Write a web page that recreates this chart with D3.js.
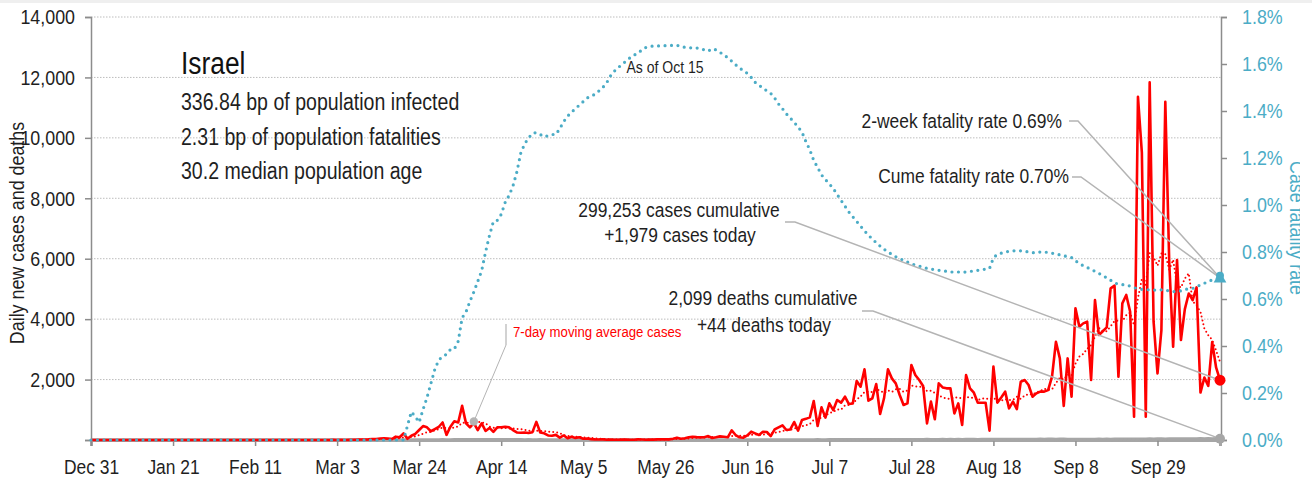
<!DOCTYPE html>
<html>
<head>
<meta charset="utf-8">
<script src="https://cdn.jsdelivr.net/npm/d3@7"></script>
<style>
  html, body { margin: 0; padding: 0; background: #fff; }
  svg { display: block; font-family: "Liberation Sans", Arial, sans-serif; }
</style>
</head>
<body>
<svg id="chart" width="1312" height="480"></svg>
<script>
// ---- data: one value per day, starting 2019-12-31 ----
const startDay = "2019-12-31";

const dailyCases = [
  0,0,0,0,0,0,0,0,0,0,
  0,0,0,0,0,0,0,0,0,0,
  0,0,0,0,0,0,0,0,0,0,
  0,0,0,0,0,0,0,0,0,0,
  0,0,0,0,0,0,0,0,0,0,
  0,0,1,0,0,0,0,0,1,0,
  0,2,3,2,5,2,4,8,11,19,
  16,21,34,28,48,57,50,30,110,90,
  220,40,140,200,330,460,420,290,360,430,
  580,170,440,620,580,1130,550,420,560,330,
  550,300,400,270,420,420,440,420,330,250,
  240,250,230,260,600,250,220,150,140,170,
  80,150,60,110,70,90,40,50,30,20,
  15,20,10,15,8,10,12,15,10,8,
  20,15,10,18,12,20,22,25,20,40,
  77,44,60,90,110,95,88,90,130,66,
  90,120,105,90,320,165,90,77,150,275,
  220,165,275,265,130,350,420,485,330,350,
  595,310,660,700,750,1290,463,1080,740,1213,
  990,1323,1235,1434,1190,1210,1950,1765,2340,1300,
  1380,1853,860,1380,2340,2040,1875,1490,1160,1213,
  2480,2150,1985,1790,550,1270,685,1875,1740,1710,
  1710,880,1213,496,2150,1710,1566,1235,1235,1235,
  310,2430,1235,1410,1600,1048,1270,1025,1930,1985,
  1820,1434,1544,1600,1600,1650,2100,3250,2700,1125,
  2700,1434,4357,3750,3860,3915,1985,4630,3474,3600,
  3728,5020,5107,2096,4522,4800,4247,772,11360,9500,
  772,11835,3915,2206,3640,11195,5900,3090,5956,3310,
  4330,4850,4630,5050,1570,2070,1790,3240,2400,1979
];

const dailyDeaths = [
  0,0,0,0,0,0,0,0,0,0, 0,0,0,0,0,0,0,0,0,0,
  0,0,0,0,0,0,0,0,0,0, 0,0,0,0,0,0,0,0,0,0,
  0,0,0,0,0,0,0,0,0,0, 0,0,0,0,0,0,0,0,0,0,
  0,0,0,0,0,0,0,0,0,0, 0,0,0,0,0,0,0,0,0,0,
  1,0,0,1,2,1,3,3,4,3,
  5,4,4,6,5,7,8,9,6,10,
  8,9,7,8,10,6,8,7,5,8,
  6,4,5,4,3,5,3,4,2,3,
  2,3,2,2,1,3,1,2,1,2,
  1,1,0,2,1,0,1,1,0,1,
  1,0,0,1,0,1,0,1,0,0,
  1,0,1,0,1,0,0,1,0,1,
  0,1,0,1,0,1,1,0,1,0,
  1,0,1,1,0,2,1,1,2,1,
  2,3,2,3,4,3,5,4,4,6,
  5,6,5,7,6,8,7,6,8,9,
  7,9,10,8,11,9,10,12,8,11,
  10,12,11,9,13,11,12,10,14,12,
  13,11,15,12,14,13,16,12,15,14,
  13,16,15,14,17,15,18,16,19,17,
  18,20,17,22,19,21,23,20,24,22,
  17,15,18,16,19,17,20,18,21,19,
  22,20,23,21,25,22,27,24,26,28,
  26,30,27,29,32,28,31,34,30,33,
  35,32,37,34,39,36,38,35,40,44
];

// case fatality rate, percent
const fatalityRate = [
  0,0,0,0,0,0,0,0,0,0, 0,0,0,0,0,0,0,0,0,0,
  0,0,0,0,0,0,0,0,0,0, 0,0,0,0,0,0,0,0,0,0,
  0,0,0,0,0,0,0,0,0,0, 0,0,0,0,0,0,0,0,0,0,
  0,0,0,0,0,0,0,0,0,0, 0,0,0,0,0,0,0,0,0,0,
  0,0.06,0.12,0.10,0.075,0.13,0.18,0.24,0.30,0.34,
  0.355,0.365,0.385,0.387,0.42,0.52,0.545,0.59,0.63,0.675,
  0.72,0.80,0.87,0.93,0.935,0.96,1.01,1.04,1.08,1.14,
  1.22,1.26,1.285,1.305,1.308,1.30,1.29,1.295,1.30,1.30,
  1.325,1.355,1.378,1.395,1.41,1.425,1.44,1.455,1.465,1.47,
  1.485,1.50,1.52,1.55,1.57,1.585,1.60,1.612,1.627,1.638,
  1.645,1.66,1.67,1.674,1.677,1.677,1.677,1.678,1.678,1.68,
  1.68,1.674,1.671,1.67,1.668,1.668,1.666,1.66,1.655,1.665,
  1.66,1.65,1.638,1.627,1.612,1.597,1.582,1.573,1.56,1.543,
  1.522,1.51,1.497,1.486,1.475,1.455,1.43,1.41,1.388,1.37,
  1.352,1.332,1.31,1.27,1.235,1.19,1.16,1.128,1.108,1.09,
  1.07,1.045,1.02,0.995,0.97,0.95,0.93,0.91,0.89,0.872,
  0.855,0.84,0.825,0.812,0.80,0.79,0.78,0.772,0.765,0.757,
  0.75,0.745,0.74,0.735,0.73,0.727,0.725,0.722,0.72,0.718,
  0.715,0.715,0.715,0.714,0.715,0.717,0.72,0.722,0.725,0.727,
  0.73,0.775,0.79,0.795,0.80,0.803,0.805,0.805,0.805,0.803,
  0.80,0.797,0.797,0.80,0.80,0.798,0.795,0.792,0.788,0.784,
  0.78,0.776,0.763,0.75,0.742,0.734,0.726,0.718,0.709,0.70,
  0.69,0.68,0.668,0.663,0.661,0.66,0.655,0.648,0.644,0.641,
  0.64,0.639,0.638,0.638,0.639,0.638,0.634,0.632,0.631,0.635,
  0.641,0.643,0.645,0.652,0.66,0.667,0.675,0.681,0.685,0.69
];

const xTickDates = ["2019-12-31","2020-01-21","2020-02-11","2020-03-03","2020-03-24","2020-04-14",
  "2020-05-05","2020-05-26","2020-06-16","2020-07-07","2020-07-28","2020-08-18","2020-09-08","2020-09-29"];
const countTicks = [0,2000,4000,6000,8000,10000,12000,14000];
const rateTicks = [0,0.2,0.4,0.6,0.8,1.0,1.2,1.4,1.6,1.8];

const titleText = "Israel";
const statLines = ["336.84 bp of population infected", "2.31 bp of population fatalities", "30.2 median population age"];
const casesCumulative = 299253, casesToday = 1979, deathsCumulative = 2099, deathsToday = 44;
const twoWeekRate = 0.69, cumeRate = 0.70;

// ---- scales ----
const parseDay = d3.utcParse("%Y-%m-%d");
const day0 = parseDay(startDay);
const dates = dailyCases.map((_, i) => d3.utcDay.offset(day0, i));
const n = dates.length;

const x = d3.scaleUtc().domain([dates[0], dates[n - 1]]).range([91, 1220]);
const y = d3.scaleLinear().domain([0, 14000]).range([440, 17]);
const yR = d3.scaleLinear().domain([0, 1.8]).range([440, 17]);

const trailingMean = arr => arr.map((_, i) => d3.mean(arr.slice(Math.max(0, i - 6), i + 1)));
const casesAvg = trailingMean(dailyCases);
const deathsAvg = trailingMean(dailyDeaths);

const svg = d3.select("#chart");
const BLUE = "#4bacc6", RED = "#ff0000", GRAY = "#a6a6a6", AXIS = "#8c8c8c", TEXT = "#1f1f1f";

svg.append("rect").attr("x", 0).attr("y", 0).attr("width", 1312).attr("height", 3).attr("fill", "#efefef");

// gridlines
svg.append("g").selectAll("line").data(countTicks.filter(v => v > 0)).join("line")
  .attr("x1", 91).attr("x2", 1221)
  .attr("y1", d => y(d)).attr("y2", d => y(d))
  .attr("stroke", "#bdbdbd").attr("stroke-width", 1).attr("stroke-dasharray", "1.5,1.5");

// left axis
const gL = svg.append("g").attr("transform", "translate(91,0)")
  .call(d3.axisLeft(y).tickValues(countTicks).tickFormat(v => v === 0 ? "" : d3.format(",")(v)).tickSize(6).tickPadding(10));
gL.select(".domain").attr("stroke", AXIS).attr("stroke-width", 1.5);
gL.selectAll(".tick line").attr("stroke", AXIS).attr("stroke-width", 1.5);
gL.selectAll(".tick text").attr("fill", TEXT).style("font-size", "21px");

// right axis
const gR = svg.append("g").attr("transform", "translate(1221,0)")
  .call(d3.axisRight(yR).tickValues(rateTicks).tickFormat(v => d3.format(".1f")(v) + "%").tickSize(6).tickPadding(15));
gR.select(".domain").attr("stroke", AXIS).attr("stroke-width", 1.5);
gR.selectAll(".tick line").attr("stroke", AXIS).attr("stroke-width", 1.5);
gR.selectAll(".tick text").attr("fill", BLUE).style("font-size", "21px");

// bottom axis
const gB = svg.append("g").attr("transform", "translate(0,440)")
  .call(d3.axisBottom(x).tickValues(xTickDates.map(parseDay)).tickFormat(d3.utcFormat("%b %-d")).tickSize(6).tickPadding(13));
gB.select(".domain").attr("stroke", GRAY).attr("stroke-width", 3);
gB.selectAll(".tick line").attr("stroke", AXIS).attr("stroke-width", 1.5);
gB.selectAll(".tick text").attr("fill", TEXT).style("font-size", "20.5px");
svg.selectAll(".domain").attr("fill", "none");
[gL, gR, gB].forEach(g => g.attr("font-family", null).attr("font-size", null));

// axis titles
svg.append("text").attr("transform", "translate(24,233) rotate(-90)")
  .attr("text-anchor", "middle").attr("fill", TEXT).style("font-size", "21px")
  .text("Daily new cases and deaths");
svg.append("clipPath").attr("id", "edgeClip").append("rect")
  .attr("x", 0).attr("y", 0).attr("width", 1300).attr("height", 480);
svg.append("g").attr("clip-path", "url(#edgeClip)")
  .append("text")
  .attr("transform", "translate(1289.5,228) rotate(90)")
  .attr("text-anchor", "middle").attr("fill", BLUE).style("font-size", "21px")
  .text("Case fatality rate");

// ---- series ----
const lineC = d3.line().x((d, i) => x(dates[i])).y(d => y(d));
const lineR = d3.line().x((d, i) => x(dates[i])).y(d => yR(d));

svg.append("path").datum(dailyDeaths).attr("d", lineC)
  .attr("fill", "none").attr("stroke", GRAY).attr("stroke-width", 3.5).attr("stroke-linejoin", "round");
svg.append("path").datum(deathsAvg).attr("d", lineC)
  .attr("fill", "none").attr("stroke", GRAY).attr("stroke-width", 2).attr("stroke-dasharray", "0,4").attr("stroke-linecap", "round");

svg.append("path").datum(casesAvg).attr("d", lineC)
  .attr("fill", "none").attr("stroke", RED).attr("stroke-width", 2).attr("stroke-dasharray", "0,4").attr("stroke-linecap", "round");
svg.append("path").datum(dailyCases).attr("d", lineC)
  .attr("fill", "none").attr("stroke", RED).attr("stroke-width", 2.6).attr("stroke-linejoin", "round");

svg.append("path").datum(fatalityRate).attr("d", lineR)
  .attr("fill", "none").attr("stroke", BLUE).attr("stroke-width", 3.2).attr("stroke-dasharray", "0,6.5").attr("stroke-linecap", "round");

// ---- annotations ----
const leader = d3.line();
const LEAD = "#b4b4b4";
const xEnd = x(dates[n - 1]);

// 7-day average callout
const avgIdx = 98;
const avgPt = [x(dates[avgIdx]), y(casesAvg[avgIdx])];
svg.append("path").attr("d", leader([[506, 345], avgPt])).attr("stroke", LEAD).attr("stroke-width", 1).attr("fill", "none");
svg.append("line").attr("x1", 506).attr("x2", 506).attr("y1", 324).attr("y2", 345).attr("stroke", LEAD).attr("stroke-width", 1.2);
svg.append("circle").attr("cx", avgPt[0]).attr("cy", avgPt[1]).attr("r", 4.2).attr("fill", "#b4b4b4");
svg.append("text").attr("x", 513).attr("y", 337).attr("fill", RED).style("font-size", "15.5px").text("7-day moving average cases");

svg.append("text").attr("x", 665).attr("y", 73).attr("text-anchor", "middle").attr("fill", TEXT).style("font-size", "16.5px").text("As of Oct 15");

// cases callout
const casePt = [xEnd, y(casesToday)];
svg.append("path").attr("d", leader([[785, 222], [795, 222], casePt])).attr("stroke", LEAD).attr("stroke-width", 1.5).attr("fill", "none");
svg.append("text").attr("x", 679).attr("y", 217).attr("text-anchor", "middle").attr("fill", TEXT).style("font-size", "20.5px")
  .text(d3.format(",")(casesCumulative) + " cases cumulative");
svg.append("text").attr("x", 680).attr("y", 242).attr("text-anchor", "middle").attr("fill", TEXT).style("font-size", "20.5px")
  .text("+" + d3.format(",")(casesToday) + " cases today");

// deaths callout
const deathPt = [xEnd, y(deathsToday)];
svg.append("path").attr("d", leader([[862, 311], [873, 311], deathPt])).attr("stroke", LEAD).attr("stroke-width", 1.5).attr("fill", "none");
svg.append("text").attr("x", 763).attr("y", 305).attr("text-anchor", "middle").attr("fill", TEXT).style("font-size", "20.5px")
  .text(d3.format(",")(deathsCumulative) + " deaths cumulative");
svg.append("text").attr("x", 764).attr("y", 332).attr("text-anchor", "middle").attr("fill", TEXT).style("font-size", "20.5px")
  .text("+" + deathsToday + " deaths today");

// fatality-rate callouts
const ratePt = [xEnd, yR(twoWeekRate)];
svg.append("path").attr("d", leader([[1069, 121], [1078, 121], ratePt])).attr("stroke", LEAD).attr("stroke-width", 1.5).attr("fill", "none");
svg.append("path").attr("d", leader([[1072, 177], [1081, 177], ratePt])).attr("stroke", LEAD).attr("stroke-width", 1.5).attr("fill", "none");
svg.append("text").attr("x", 1062).attr("y", 128).attr("text-anchor", "end").attr("fill", TEXT).style("font-size", "20.5px")
  .text("2-week fatality rate " + twoWeekRate.toFixed(2) + "%");
svg.append("text").attr("x", 1069).attr("y", 183).attr("text-anchor", "end").attr("fill", TEXT).style("font-size", "20.5px")
  .text("Cume fatality rate " + cumeRate.toFixed(2) + "%");

// end markers
svg.append("circle").attr("cx", deathPt[0]).attr("cy", deathPt[1]).attr("r", 5).attr("fill", GRAY);
svg.append("circle").attr("cx", casePt[0]).attr("cy", casePt[1]).attr("r", 5.5).attr("fill", RED);
svg.append("path").attr("transform", `translate(${ratePt[0]},${ratePt[1] + 1})`)
  .attr("d", d3.symbol(d3.symbolTriangle, 70)()).attr("fill", BLUE);
svg.append("circle").attr("cx", ratePt[0]).attr("cy", ratePt[1] - 2).attr("r", 4).attr("fill", BLUE);

// title block
svg.append("text").attr("x", 181).attr("y", 74).attr("fill", "#111").style("font-size", "31px").text(titleText);
svg.append("g").selectAll("text").data(statLines).join("text")
  .attr("x", 181).attr("y", (d, i) => 110 + i * 34.5)
  .attr("fill", TEXT).style("font-size", "23px").text(d => d);

// condensed lettering: squeeze every label horizontally
svg.selectAll("text").each(function () {
  const w = this.getComputedTextLength();
  if (w > 0) d3.select(this).attr("textLength", w * 0.85).attr("lengthAdjust", "spacingAndGlyphs");
});
</script>
</body>
</html>
